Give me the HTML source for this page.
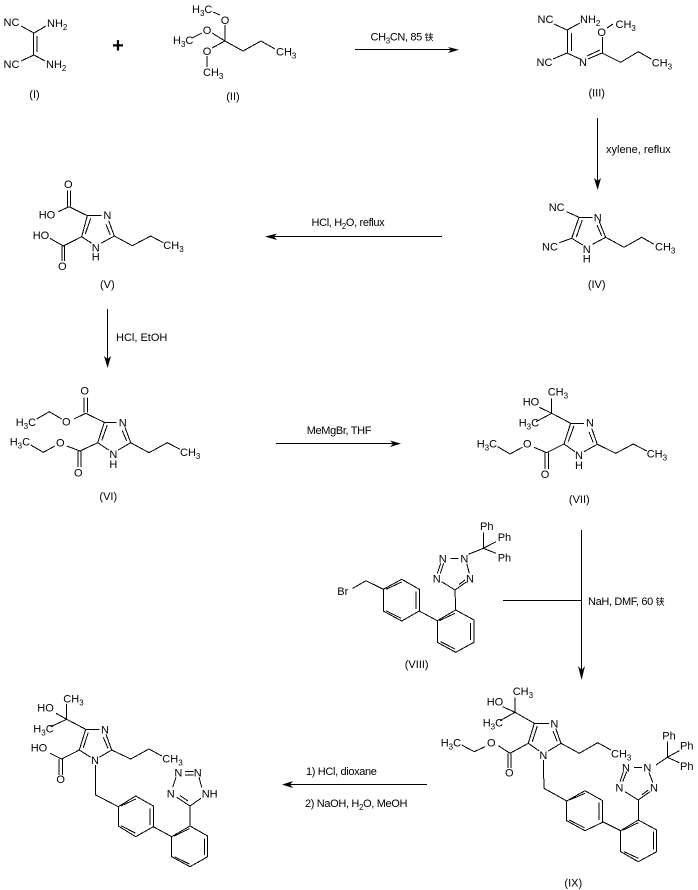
<!DOCTYPE html>
<html><head><meta charset="utf-8"><style>
html,body{margin:0;padding:0;background:#fff;width:698px;height:890px;overflow:hidden}
svg{display:block}
text{font-family:"Liberation Sans","Noto Sans CJK SC",sans-serif;font-size:11px;fill:#000}
.c{text-anchor:middle}
.t{letter-spacing:-.35px}
.g{font-size:9px}
path{fill:none;stroke:#000;stroke-width:1;shape-rendering:crispEdges}
</style></head><body>
<svg xmlns="http://www.w3.org/2000/svg" width="698" height="890" viewBox="0 0 698 890">
<!-- I -->
<path d="M21 26L34 33L46 26M33.5 33V55M37 36V52M34 55L21 61M34 55L45 61"/>
<text x="3.5" y="26">NC</text><text x="47" y="27">NH<tspan dy="3" font-size="8">2</tspan></text>
<text x="3.5" y="68">NC</text><text x="46" y="68">NH<tspan dy="3" font-size="8">2</tspan></text>
<text class="c" x="34.5" y="98">(I)</text>
<text class="c" x="118" y="52" style="font-size:20px;font-weight:bold">+</text>
<!-- II -->
<path d="M213 12L220 15M225 25V41M192 38L202 33M212 33L225 41M225 41L212 48M207 56V67M225 41L243 51L261 41L275 49"/>
<text x="192" y="13">H<tspan dy="3" font-size="8">3</tspan><tspan dy="-3">C</tspan></text>
<text class="c" x="225" y="24">O</text><text class="c" x="207" y="34">O</text><text class="c" x="207" y="55">O</text>
<text x="173" y="44">H<tspan dy="3" font-size="8">3</tspan><tspan dy="-3">C</tspan></text>
<text x="203" y="76">CH<tspan dy="3" font-size="8">3</tspan></text>
<text x="276" y="55.5">CH<tspan dy="3" font-size="8">3</tspan></text>
<text class="c" x="233" y="100">(II)</text>
<!-- arrow 1 -->
<path d="M355 49.5H452"/><polygon points="448,47 459,49.8 448,53 451,49.8"/>
<text class="t" x="370.5" y="40.5">CH<tspan dy="3" font-size="8">3</tspan><tspan dy="-3">CN, 85 <tspan class="g">铗</tspan></tspan></text>
<!-- III -->
<path d="M554 24L567 30L580 23M567.5 30V53M571.5 33V51M567 53L553 59M567 53L580 59M588 59L602 53M587 56L600 50M602.5 53V37M607 28L613 24M602 53L620.7 62.3L638.3 51.7L651.7 59.3"/>
<text x="537.5" y="23">NC</text><text x="580" y="23">NH<tspan dy="3" font-size="8">2</tspan></text>
<text x="536.5" y="66">NC</text><text class="c" x="583" y="66">N</text><text class="c" x="601.7" y="36">O</text>
<text x="615.5" y="28">CH<tspan dy="3" font-size="8">3</tspan></text><text x="651.7" y="66.5">CH<tspan dy="3" font-size="8">3</tspan></text>
<text class="c" x="596.7" y="96.5">(III)</text>
<!-- arrow 2 -->
<path d="M597.5 118V183"/><polygon points="594,178 597.6,190 601,178 597.6,181"/>
<text x="606" y="153">xylene, reflux</text>
<!-- IV -->
<path d="M566.7 211.7L579 217.3H592.7M579 217.3L571.7 238.3M582.3 220L576.3 237M571.7 238.3L582.7 245M592.7 244.3L605.7 237.3L599.3 221.7M601.7 236L597 225M605.7 237.3L624 247.3L641.7 237.3L654 244.3M559.3 242.7L571.7 238.3"/>
<text x="548.7" y="211">NC</text><text x="542" y="250.5">NC</text>
<text class="c" x="597.7" y="221.3">N</text><text class="c" x="586.7" y="253">N</text><text class="c" x="586.7" y="262.3">H</text>
<text x="655" y="250.5">CH<tspan dy="3" font-size="8">3</tspan></text>
<text class="c" x="596.7" y="288">(IV)</text>
<!-- arrow 3 -->
<path d="M442 236.5H270"/><polygon points="277,233.5 265,236.6 277,240 274,236.6"/>
<text class="t" x="311.5" y="226">HCl, H<tspan dy="3" font-size="8">2</tspan><tspan dy="-3">O, reflux</tspan></text>
<!-- V -->
<path d="M67.3 190.7V206.7M70.7 190.7V206.7M58.3 211.7L69 206.7L87.3 215.7H101.7M87.3 215.7L81.7 236.7M90.7 218.3L85.3 234M81.7 236.7L91.7 243.3M101 243.3L114.3 236L108.7 220.7M110.3 235L106 224.3M114.3 236L132.3 245.7L150.7 236L163.3 242.7M81.7 236.7L63.3 246L50 238.3M62 246V261M64.7 246V261"/>
<text class="c" x="68.3" y="188">O</text><text x="38.7" y="218.3">HO</text><text class="c" x="107.3" y="219">N</text>
<text class="c" x="95.7" y="251.3">N</text><text class="c" x="95.7" y="260.7">H</text>
<text x="163.3" y="249">CH<tspan dy="3" font-size="8">3</tspan></text>
<text x="32.7" y="239">HO</text><text class="c" x="62.3" y="270">O</text>
<text class="c" x="107.3" y="288">(V)</text>
<!-- arrow 4 -->
<path d="M107.5 309V362"/><polygon points="104,356 107.6,368 111,356 107.6,359"/>
<text x="116" y="341">HCl, EtOH</text>
<!-- VI -->
<path d="M84 397.3V412.7M87.3 397.3V412.7M74 419L85.7 413.3L104.3 422.3H116.7M104.3 422.3L97.7 442.7M107.3 425L101.7 440.7M97.7 442.7L108.7 450M118.3 450L130.7 442.7L125 427.3M126.7 441L122.3 430.7M130.7 442.7L149 452.7L167.3 442.7L180 449.3M61.7 419L49.3 411.7L36.7 419M97.7 442.7L80 451L66.7 446M55 446L43.3 452.3L30.7 445M78 451V467M81 451V467"/>
<text class="c" x="84.7" y="394.7">O</text><text class="c" x="122.7" y="426.3">N</text><text class="c" x="66.3" y="425.7">O</text>
<text class="c" x="113.3" y="458">N</text><text class="c" x="113.3" y="468">H</text>
<text x="180" y="456">CH<tspan dy="3" font-size="8">3</tspan></text>
<text x="15.7" y="426">H<tspan dy="3" font-size="8">3</tspan><tspan dy="-3">C</tspan></text>
<text x="9.7" y="445.5">H<tspan dy="3" font-size="8">3</tspan><tspan dy="-3">C</tspan></text>
<text class="c" x="60.3" y="446.7">O</text><text class="c" x="78.3" y="476.7">O</text>
<text class="c" x="108.3" y="500">(VI)</text>
<!-- arrow 5 -->
<path d="M276 443.5H395"/><polygon points="390,440.5 401,443.6 390,447 393,443.6"/>
<text class="t" x="306.7" y="434">MeMgBr, THF</text>
<!-- VII -->
<path d="M551.7 413.3V398.3M551.7 413.3L539.3 407.3M551.7 413.3L536 421.7M551.7 413.3L570.7 423.3H584M570.7 423.3L564 444M574 425.7L568.3 441.7M564 444L575 451.7M584 451.7L597.3 444.3L591.7 428.3M593.3 442.7L589 432M597.3 444.3L615.7 453.3L633.3 444L646.7 451M564 444L546.7 452.7L534 447.3M522.3 447.3L510 454L497.7 446.7M545 452.7V469M548.3 452.7V469"/>
<text x="547.7" y="395.5">CH<tspan dy="3" font-size="8">3</tspan></text><text x="522.7" y="405.7">HO</text>
<text x="518.7" y="426.5">H<tspan dy="3" font-size="8">3</tspan><tspan dy="-3">C</tspan></text>
<text class="c" x="590" y="426.7">N</text><text class="c" x="579" y="459">N</text><text class="c" x="579" y="469">H</text>
<text x="646.7" y="457.3">CH<tspan dy="3" font-size="8">3</tspan></text><text class="c" x="527.3" y="447.3">O</text>
<text x="476.7" y="447.3">H<tspan dy="3" font-size="8">3</tspan><tspan dy="-3">C</tspan></text>
<text class="c" x="545" y="478">O</text><text class="c" x="579.3" y="503">(VII)</text>
<!-- arrow 6 -->
<path d="M581.5 530V674M503 600.5H581"/><polygon points="578,666 581.6,680 585,666 581.6,670"/>
<text class="t" x="588" y="605">NaH, DMF, 60 <tspan class="g">铗</tspan></text>
<!-- VIII -->
<path d="M483.3 548.3V532.7M483.3 548.3L496 541.7M483.3 548.3L496 553.3M483.3 548.3L468.3 554.3M450.7 558.3H458.3M440.7 563.3L437.3 573.3M443.7 563.3L440.3 573.3M466.7 563.3L469.3 573.3M441.7 581.7L455 590L466.7 581.7M459 584.5L465 580M455 590L455.7 610L474 620V642.3L455.7 652.3L437.3 642.3V620.7L455.7 610M470.7 623V640M440.7 641.7L455 649M439.3 620.7L455 613.3M437.3 620.7L419.3 611V589.3L401.7 579.3L383.3 589.3V611L401.7 621L419.3 611M416 591.7V609M386 589.3L401.7 582M386 610.7L401 618.3M383.3 589.3L366 580.7L352.7 588.3"/>
<text x="480" y="530">Ph</text><text x="497.7" y="541">Ph</text><text x="497.7" y="561.5">Ph</text>
<text class="c" x="464.3" y="562.3">N</text><text class="c" x="442.7" y="562.3">N</text><text class="c" x="436.7" y="582.3">N</text><text class="c" x="470" y="582.3">N</text>
<text x="337.3" y="595">Br</text><text class="c" x="416.7" y="668">(VIII)</text>
<!-- arrow 7 -->
<path d="M427 784.5H287"/><polygon points="293,781 282,784.6 293,788 290,784.6"/>
<text class="t" x="306" y="775">1) HCl, dioxane</text>
<text class="t" x="305" y="807">2) NaOH, H<tspan dy="3" font-size="8">2</tspan><tspan dy="-3">O, MeOH</tspan></text>
<!-- IX -->
<path d="M515 712.3V697.3M515 712.3L502.7 706.7M515 712.3L500 720.7M515 712.3L534.3 723.3H549M534.3 723.3L528.3 743.3M537.3 726L532.3 741.7M528.3 743.3L539.3 751M548.3 751L561 743.3L555.7 728.3M557.3 741.7L553 731M561 743.3L579.3 753.3L597.7 742.7L611 750M528.3 743.3L510 753.3L498.3 745.7M485 746.7L474.3 751.7L461.7 745M508 753.3V768M511 753.3V768M543.3 760L544 788.3L566.7 801L585 790.7L602.7 800.7V822.3L585 830.7L566.7 820.7V801M569.3 800L585 793.3M599 802.7V820M569.3 820L584.3 827.7M602.7 821.7L620.7 830.7L638.3 820L656.7 830V851.7L638.3 861.7L620.7 851.7V830.7M623.3 830L638.3 822.7M653.3 831.7V849.3M624 851.7L638.3 858.3M638.3 820V800L625 791.7M638.3 800L650 791.7M634 767.3H642M623.3 771.7L620 781.7M626.7 771.7L622.7 781.7M649 772.3L652.7 782.3M641.7 795L648.3 790M667.3 757.3L656 765M667.3 757.3V741.7M667.3 757.3L679.3 750.7M667.3 757.3L679.3 762.7"/>
<text x="512.7" y="695">CH<tspan dy="3" font-size="8">3</tspan></text><text x="486.7" y="705.7">HO</text>
<text x="482.7" y="726.5">H<tspan dy="3" font-size="8">3</tspan><tspan dy="-3">C</tspan></text>
<text class="c" x="554.3" y="727.3">N</text><text class="c" x="543.3" y="759">N</text>
<text x="611" y="757.3">CH<tspan dy="3" font-size="8">3</tspan></text><text class="c" x="491.3" y="746.3">O</text>
<text x="440.7" y="746.7">H<tspan dy="3" font-size="8">3</tspan><tspan dy="-3">C</tspan></text><text class="c" x="509.3" y="776.7">O</text>
<text class="c" x="619.3" y="791.3">N</text><text class="c" x="654" y="791.3">N</text><text class="c" x="626" y="771.3">N</text><text class="c" x="647.3" y="771.3">N</text>
<text x="662.3" y="739.3">Ph</text><text x="680" y="749.3">Ph</text><text x="680" y="770">Ph</text>
<text class="c" x="573.3" y="886.5">(IX)</text>
<!-- X -->
<path d="M66.7 719.3V704M66.7 719.3L56 713.3M66.7 719.3L50.7 726.7M66.7 719.3L85.7 729.3H99.3M85.7 729.3L79.3 750M88.3 732.3L83.3 747.7M79.3 750L90.7 757.3M99.3 757.3L111.7 750L106 734.3M108 748.3L103.3 737.3M111.7 750L130.7 759L149 749L161.7 756M79.3 750L61.7 759L50 753.3M59 759V775M62.3 759V775M95.7 765V795L118.3 806.7L135.7 796L153.3 806V826.7L135.7 836.7L118.3 826V806.7M121 806L135.7 799M150 808.3V825M121 825.7L135.7 833.3M153.3 826.7L171.7 836.7L190 826L207.7 836V856.7L190 866.7L171.7 856.7V836.7M174.3 836L189.3 828.7M204.3 838.3V855M174.3 856.7L189.3 864M190 826V806L176.7 797.3M190 806L201 798.3M185 771.7H193.3M185 775H193.3M176 777.3L172.7 787.3M199 777.3L201.7 787.3M180 795.5L188 801"/>
<text x="63.3" y="702.5">CH<tspan dy="3" font-size="8">3</tspan></text><text x="37.3" y="711.7">HO</text>
<text x="33.3" y="732.3">H<tspan dy="3" font-size="8">3</tspan><tspan dy="-3">C</tspan></text>
<text class="c" x="105" y="733.3">N</text><text class="c" x="95" y="764">N</text>
<text x="162.3" y="762.7">CH<tspan dy="3" font-size="8">3</tspan></text>
<text x="30.7" y="751.7">HO</text><text class="c" x="60.7" y="783">O</text>
<text class="c" x="170.7" y="797.3">N</text><text x="201.7" y="797.3">NH</text>
<text class="c" x="178.3" y="776.7">N</text><text class="c" x="197.7" y="776.7">N</text>
</svg>
</body></html>
